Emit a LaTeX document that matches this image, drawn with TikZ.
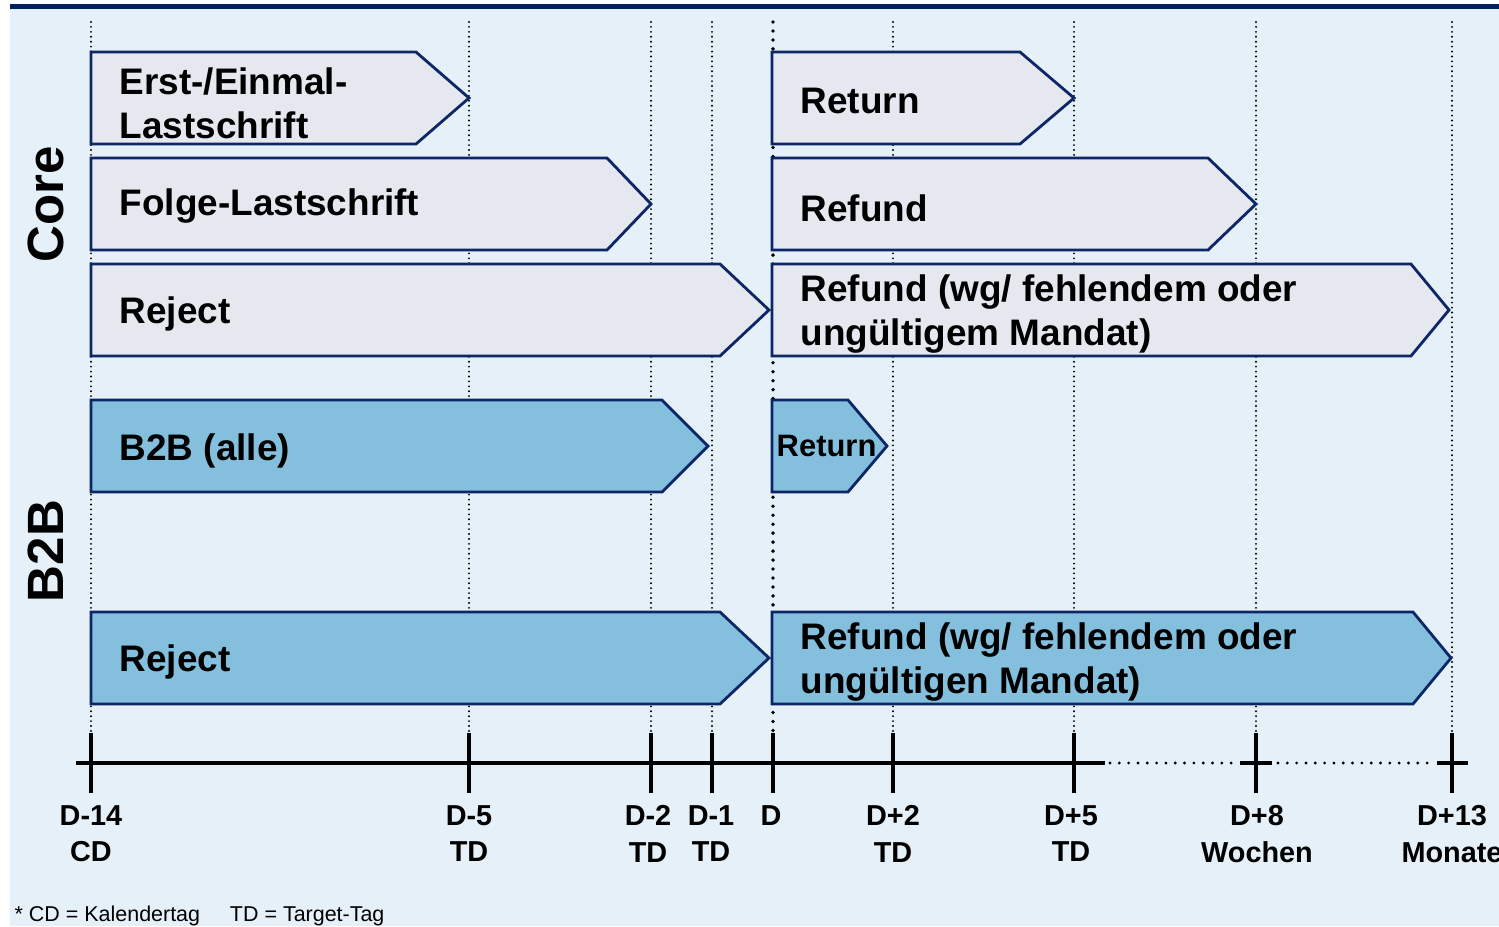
\documentclass[tikz,border=0pt]{standalone}
\usepackage{fontspec}
\setmainfont{Liberation Sans}
\definecolor{hgblau}{HTML}{E5F0F8}
\definecolor{balken}{HTML}{002060}
\definecolor{corefill}{HTML}{E6E8F0}
\definecolor{btbfill}{HTML}{84C0DE}
\definecolor{rand}{HTML}{0C2666}
\newcommand{\pfeilform}[6]{\draw[#1] (#2,#5) -- (#3,#5) -- (#4,{(#5+#6)/2}) -- (#3,#6) -- (#2,#6) -- cycle;}
\tikzset{
  coreshape/.style={draw=rand,fill=corefill,line width=0.8pt},
  btbshape/.style={draw=rand,fill=btbfill,line width=0.8pt},
  boxlabel/.style={anchor=west,inner sep=0pt,align=left,font=\bfseries\fontsize{10.5}{12.5}\selectfont},
  ticklabel/.style={anchor=north,inner sep=0pt,align=center,font=\bfseries\fontsize{8.2}{10.3}\selectfont},
  zeitlinie/.style={line width=0.6pt,line cap=round,dash pattern=on 0pt off 1.4pt},
  dlinie/.style={line width=1.1pt,line cap=round,dash pattern=on 0pt off 2.55pt},
  achse/.style={line width=1.4pt},
  achsepunkte/.style={line width=0.9pt,line cap=round,dash pattern=on 0pt off 2.65pt},
}
\begin{document}
\begin{tikzpicture}[x=0.01cm,y=-0.01cm]
    \useasboundingbox (0,0) rectangle (1499,926);
    \fill[hgblau] (10,4) rectangle (1499,926);
    \fill[balken] (10,4) rectangle (1499,9);
    % Zeitachse
    \foreach \xx/\name in {91/dm14,469/dm5,651/dm2,712/dm1,893/dp2,1074/dp5,1256/dp8,1452/dp13}{
        \draw[zeitlinie] (\xx,22) -- (\xx,733);
        \coordinate (\name) at (\xx,763);
    }
    \draw[dlinie] (773,22) -- (773,733);
    \coordinate (d0) at (773,763);
    \coordinate (start) at (76,763);
    \coordinate (ende) at (1468,763);
    \draw[achse] (start) -- (1105,763);
    \draw[achsepunkte] (1110,763) -- (1238,763);
    \draw[achse] (1240,763) -- (1272,763);
    \draw[achsepunkte] (1278,763) -- (1432,763);
    \draw[achse] (1437,763) -- (ende);
    \foreach \name in {dm14,dm5,dm2,dm1,d0,dp2,dp5,dp8,dp13}
        \draw[achse] ([yshift=0.3cm]\name) -- ([yshift=-0.3cm]\name);
    \node[ticklabel] (lm14) at (91,805) {D-14\\CD};
    \node[ticklabel] (lm5) at (469,805) {D-5\\TD};
    \node[ticklabel] (lm2) at (648,805) {D-2\\TD};
    \node[ticklabel] (lm1) at (711,805) {D-1\\TD};
    \node[ticklabel] (l0) at (771,805) {D};
    \node[ticklabel] (lp2) at (893,805) {D+2\\TD};
    \node[ticklabel] (lp5) at (1071,805) {D+5\\TD};
    \node[ticklabel] (lp8) at (1257,805) {D+8\\Wochen};
    \node[ticklabel] (lp13) at (1452,805) {D+13\\Monate};
    % Core
    \pfeilform{coreshape}{91}{416}{469}{52}{144}
    \pfeilform{coreshape}{772}{1020}{1074}{52}{144}
    \pfeilform{coreshape}{91}{607}{651}{158}{250}
    \pfeilform{coreshape}{772}{1208}{1256}{158}{250}
    \pfeilform{coreshape}{91}{720}{769}{264}{356}
    \pfeilform{coreshape}{772}{1411}{1449}{264}{356}
    \node[boxlabel] (erst) at (119,103) {Erst-/Einmal-\\Lastschrift};
    \node[boxlabel] (returncore) at (800,101) {Return};
    \node[boxlabel] (folge) at (119,206) {Folge-Lastschrift};
    \node[boxlabel] (refundcore) at (800,208) {Refund};
    \node[boxlabel] (rejectcore) at (119,314) {Reject};
    \node[boxlabel] (refundwgcore) at (800,314) {Refund (wg/ fehlendem oder\\ungültigem Mandat)};
    % B2B
    \pfeilform{btbshape}{91}{662}{708}{400}{492}
    \pfeilform{btbshape}{772}{848}{887}{400}{492}
    \pfeilform{btbshape}{91}{720}{769}{612}{704}
    \pfeilform{btbshape}{772}{1413}{1451}{612}{704}
    \node[boxlabel] (btballe) at (119,451) {B2B (alle)};
    \node[boxlabel,font=\bfseries\fontsize{8.8}{10}\selectfont] (returnbtb) at (776,446) {Return};
    \node[boxlabel] (rejectbtb) at (119,662) {Reject};
    \node[boxlabel] (refundwgbtb) at (800,662) {Refund (wg/ fehlendem oder\\ungültigen Mandat)};
    % Seitenbeschriftung
    \node[rotate=90,font=\bfseries\fontsize{14.5}{16}\selectfont] (core) at (46,204) {Core};
    \node[rotate=90,font=\bfseries\fontsize{14.5}{16}\selectfont] (btb) at (46,551) {B2B};
    \node[anchor=base west,inner sep=0pt,font=\fontsize{6.1}{7}\selectfont] (fussnote) at (14,921) {* CD = Kalendertag\hspace{8.5pt}TD = Target-Tag};
\end{tikzpicture}
\end{document}
